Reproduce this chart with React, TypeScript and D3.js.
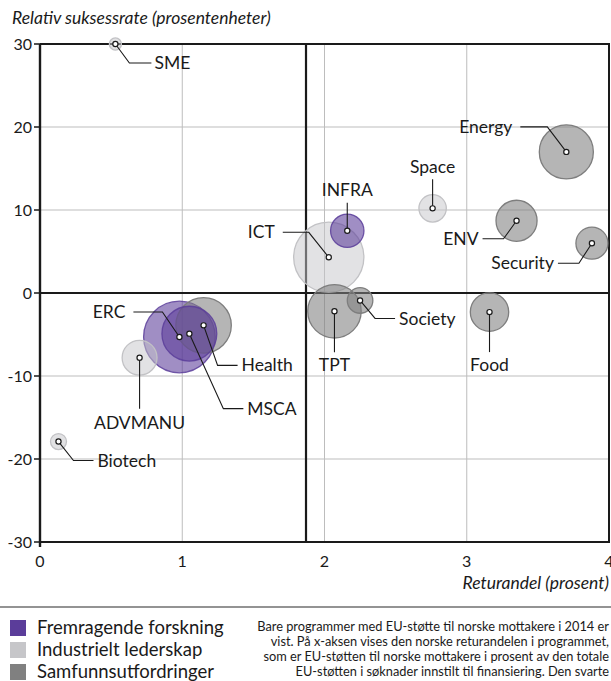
import React from "react";
import * as d3 from "d3";

// Horizon 2020 programmes: Norwegian return share vs relative success rate
const programs = ["SME", "Biotech", "ADVMANU", "ERC", "MSCA", "Health", "ICT", "INFRA", "TPT", "Society", "Space", "Energy", "ENV", "Security", "Food"];
const pillars = ["IL", "IL", "IL", "FF", "FF", "SU", "IL", "FF", "SU", "SU", "IL", "SU", "SU", "SU", "SU"];
const returnShare = [0.53, 0.13, 0.7, 0.98, 1.05, 1.15, 2.03, 2.16, 2.07, 2.25, 2.76, 3.7, 3.35, 3.88, 3.16];
const successRate = [30, -17.9, -7.8, -5.3, -4.9, -3.9, 4.3, 7.5, -2.2, -0.9, 10.2, 17.0, 8.7, 6.0, -2.3];
const funding = [2.3, 4, 19, 80, 47, 48, 77, 17.4, 44.6, 10.2, 11.7, 45.6, 26.3, 16, 23];

const xTicks = [0, 1, 2, 3, 4];
const yTicks = [-30, -20, -10, 0, 10, 20, 30];
const returnAverage = 1.87;

const pillarKeys = ["FF", "IL", "SU"];
const pillarNames = ["Fremragende forskning", "Industrielt lederskap", "Samfunnsutfordringer"];

const noteLines = [
  "Bare programmer med EU-støtte til norske mottakere i 2014 er",
  "vist. På x-aksen vises den norske returandelen i programmet,",
  "som er EU-støtten til norske mottakere i prosent av den totale",
  "EU-støtten i søknader innstilt til finansiering. Den svarte",
];

const yTitle = "Relativ suksessrate (prosentenheter)";
const xTitle = "Returandel (prosent)";

// Leader-line geometry per label: elbow points relative to the bubble centre, then label offset and anchor
const leaders: Record<string, { pts: [number, number][]; lx: number; ly: number; anchor: string }> = {
  SME: { pts: [[14, 19], [36, 19]], lx: 39, ly: 19, anchor: "start" },
  Biotech: { pts: [[15, 19], [35, 19]], lx: 39, ly: 19, anchor: "start" },
  ADVMANU: { pts: [[0, 51]], lx: 0, ly: 65, anchor: "middle" },
  ERC: { pts: [[-17, -25], [-46, -25]], lx: -54, ly: -25, anchor: "end" },
  MSCA: { pts: [[34, 75], [54, 75]], lx: 58, ly: 75, anchor: "start" },
  Health: { pts: [[14, 40], [34, 40]], lx: 38, ly: 40, anchor: "start" },
  ICT: { pts: [[-20, -25], [-46, -25]], lx: -54, ly: -25, anchor: "end" },
  INFRA: { pts: [[0, -28]], lx: 0, ly: -41, anchor: "middle" },
  TPT: { pts: [[0, 41]], lx: 0, ly: 54, anchor: "middle" },
  Society: { pts: [[15, 18], [35, 18]], lx: 39, ly: 18, anchor: "start" },
  Space: { pts: [[0, -29]], lx: 0, ly: -41, anchor: "middle" },
  Energy: { pts: [[-19, -25], [-46, -25]], lx: -54, ly: -25, anchor: "end" },
  ENV: { pts: [[-13, 18], [-34, 18]], lx: -38, ly: 18, anchor: "end" },
  Security: { pts: [[-13, 20], [-34, 20]], lx: -38, ly: 20, anchor: "end" },
  Food: { pts: [[0, 40]], lx: 0, ly: 53, anchor: "middle" },
};

const W = 611;
const H = 681;
const M = { left: 40, right: 609, top: 44, bottom: 542 };
const FONT = "Lato, 'Open Sans', sans-serif";

export default function App() {
  const x = d3.scaleLinear().domain([0, 4]).range([M.left, M.right]);
  const y = d3.scaleLinear().domain([-30, 30]).range([M.bottom, M.top]);
  const r = d3.scaleSqrt().domain([0, d3.max(funding) as number]).range([0, 35.8]);
  const fill = d3.scaleOrdinal<string, string>().domain(pillarKeys).range(["#5b3d9a", "#c6c6c9", "#808080"]);
  const stroke = d3.scaleOrdinal<string, string>().domain(pillarKeys).range(["#5b3d9a", "#c2c2c5", "#7e7e7e"]);

  const rows = programs.map((name, i) => ({
    name,
    pillar: pillars[i],
    cx: x(returnShare[i]),
    cy: y(successRate[i]),
    rad: r(funding[i]),
  }));
  const drawOrder = [...rows].sort((a, b) => b.rad - a.rad);
  const line = d3.line();

  const black = "#1a1a1a";

  return (
    <svg width={W} height={H} style={{ position: "absolute", left: 0, top: 0, fontFamily: FONT }}>
      <rect width={W} height={H} fill="#fff" />
      <text x={12} y={24} fontSize={17.5} fontStyle="italic" fill={black}>{yTitle}</text>

      {/* grid */}
      {xTicks.filter((t) => t > 0 && t < 4).map((t) => (
        <line key={"gx" + t} x1={x(t)} x2={x(t)} y1={M.top} y2={M.bottom} stroke="#bdbdbd" strokeWidth={1} />
      ))}
      {yTicks.filter((t) => t !== 0 && Math.abs(t) !== 30).map((t) => (
        <line key={"gy" + t} x1={M.left} x2={M.right} y1={y(t)} y2={y(t)} stroke="#bdbdbd" strokeWidth={1} />
      ))}

      {/* quadrant lines */}
      <line x1={M.left} x2={M.right} y1={y(0)} y2={y(0)} stroke={black} strokeWidth={2.2} />
      <line x1={x(returnAverage)} x2={x(returnAverage)} y1={M.top} y2={M.bottom} stroke={black} strokeWidth={2.2} />

      {/* frame */}
      <line x1={M.left} x2={M.right} y1={M.top} y2={M.top} stroke={black} strokeWidth={2.2} />
      <line x1={M.left} x2={M.right + 1} y1={M.bottom} y2={M.bottom} stroke={black} strokeWidth={2.2} />
      <line x1={M.left} x2={M.left} y1={M.top} y2={M.bottom + 5} stroke={black} strokeWidth={2.4} />
      <line x1={M.right} x2={M.right} y1={M.top - 1} y2={M.bottom + 1} stroke={black} strokeWidth={2} />

      {/* y axis ticks */}
      {yTicks.map((t) => (
        <g key={"ty" + t}>
          <line x1={M.left - 6} x2={M.left} y1={y(t)} y2={y(t)} stroke={black} strokeWidth={1.5} />
          <text x={M.left - 8} y={y(t)} dy="0.35em" textAnchor="end" fontSize={16} fill={black}>{t}</text>
        </g>
      ))}
      {/* x axis labels */}
      {xTicks.map((t) => (
        <text key={"tx" + t} x={x(t)} y={561} dy="0.35em" textAnchor="middle" fontSize={16} fill={black}>{t}</text>
      ))}
      <text x={609} y={583} dy="0.35em" textAnchor="end" fontSize={17.5} fontStyle="italic" fill={black}>{xTitle}</text>

      {/* bubbles */}
      {drawOrder.map((d) => (
        <circle
          key={"b" + d.name}
          cx={d.cx}
          cy={d.cy}
          r={d.rad}
          fill={fill(d.pillar)}
          fillOpacity={d.pillar === "IL" ? 0.5 : 0.58}
          stroke={stroke(d.pillar)}
          strokeOpacity={d.pillar === "FF" ? 0.85 : 1}
          strokeWidth={1.3}
        />
      ))}

      {/* leader lines and labels */}
      {rows.map((d) => {
        const L = leaders[d.name];
        const pts: [number, number][] = [[d.cx, d.cy], ...L.pts.map(([dx, dy]) => [d.cx + dx, d.cy + dy] as [number, number])];
        return (
          <g key={"l" + d.name}>
            <path d={line(pts) || ""} fill="none" stroke={black} strokeWidth={1.1} />
            <text x={d.cx + L.lx} y={d.cy + L.ly} dy="0.35em" textAnchor={L.anchor} fontSize={17.5} fill={black}>{d.name}</text>
          </g>
        );
      })}
      {rows.map((d) => (
        <circle key={"c" + d.name} cx={d.cx} cy={d.cy} r={2.6} fill="#fff" stroke={black} strokeWidth={1.2} />
      ))}

      {/* footer */}
      <line x1={0} x2={W} y1={607} y2={607} stroke="#6f6f6f" strokeWidth={1.5} />
      {pillarKeys.map((k, i) => (
        <g key={"lg" + k}>
          <rect x={10} y={620 + i * 22} width={16} height={16} fill={fill(k)} />
          <text x={37} y={628 + i * 22} dy="0.35em" fontSize={18.5} fill={black}>{pillarNames[i]}</text>
        </g>
      ))}
      {noteLines.map((s, i) => (
        <text key={"n" + i} x={609} y={627 + i * 15} dy="0.35em" textAnchor="end" fontSize={12.8} fill={black}>{s}</text>
      ))}
    </svg>
  );
}
